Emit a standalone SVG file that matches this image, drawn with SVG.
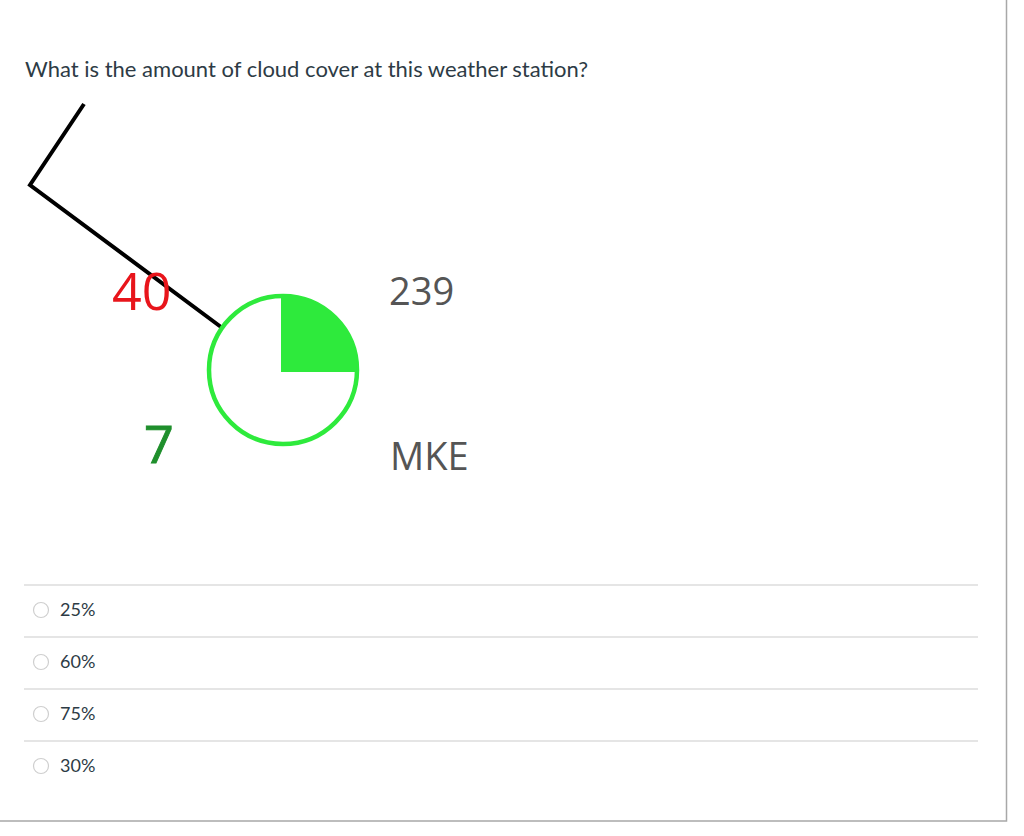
<svg xmlns="http://www.w3.org/2000/svg" width="1024" height="836" viewBox="0 0 1024 836">
<style>
.q{font-family:Lato,"Open Sans","Liberation Sans",sans-serif;fill:#2d3b45}
.opt{font-family:Lato,"Open Sans","Liberation Sans",sans-serif;font-size:18px;fill:#2d3b45}
.num{font-family:"Open Sans",Lato,"Liberation Sans",sans-serif}
.sep{stroke:#dcdcdc;stroke-width:1.5}
.radio{fill:#fff;stroke:#cfcfcf;stroke-width:1.2}
</style>
<rect x="0" y="0" width="1024" height="836" fill="#fff"/>
<g id="frame">
<path d="M-2,821 H1006.5 V-2" fill="none" stroke="#a8a8a8" stroke-width="1.5"/>
</g>
<g id="question">
<text class="q" x="25" y="77" font-size="22">What is the amount of cloud cover at this weather station?</text>
</g>
<g id="connectors">
<polyline points="84,104 30,185 221,327" fill="none" stroke="#000" stroke-width="4" stroke-linejoin="miter"/>
</g>
<g id="station">
<circle cx="283" cy="370" r="74" fill="#fff" stroke="#2eea3c" stroke-width="4.5"/>
<path d="M281,372 V296 A74,74 0 0 1 357,372 Z" fill="#2eea3c"/>
</g>
<g id="label-40"><text class="num" x="112" y="310" font-size="52" fill="#e8151b">40</text></g>
<g id="label-239"><text class="num" x="389" y="305" font-size="38" fill="#555">239</text></g>
<g id="label-7"><text class="num" x="144" y="463" font-size="52" fill="#1f8f2c" stroke="#1f8f2c" stroke-width="1">7</text></g>
<g id="label-MKE"><text class="num" x="390" y="470" font-size="38" fill="#555">MKE</text></g>
<g id="options">
<line class="sep" x1="24" y1="585" x2="978" y2="585"/>
<line class="sep" x1="24" y1="637" x2="978" y2="637"/>
<line class="sep" x1="24" y1="689" x2="978" y2="689"/>
<line class="sep" x1="24" y1="741" x2="978" y2="741"/>
<g id="opt1"><circle class="radio" cx="41" cy="610" r="7.5"/><text class="opt" x="60" y="616">25%</text></g>
<g id="opt2"><circle class="radio" cx="41" cy="662" r="7.5"/><text class="opt" x="60" y="668">60%</text></g>
<g id="opt3"><circle class="radio" cx="41" cy="714" r="7.5"/><text class="opt" x="60" y="720">75%</text></g>
<g id="opt4"><circle class="radio" cx="41" cy="766" r="7.5"/><text class="opt" x="60" y="772">30%</text></g>
</g>
</svg>
